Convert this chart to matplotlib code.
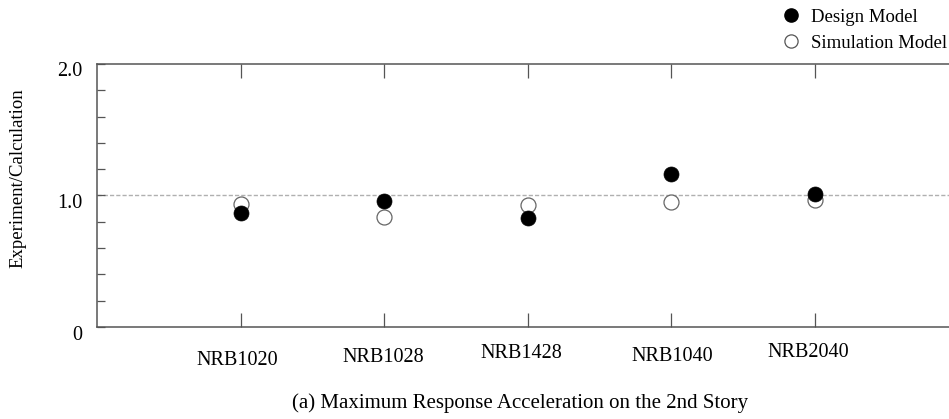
import matplotlib
matplotlib.use("Agg")
import matplotlib.pyplot as plt
import matplotlib.transforms as mtransforms
from matplotlib.lines import Line2D

categories = ["NRB1020", "NRB1028", "NRB1428", "NRB1040", "NRB2040"]
design_model = [0.864, 0.958, 0.831, 1.164, 1.009]
simulation_model = [0.933, 0.836, 0.930, 0.948, 0.966]
ytick_vals = [0, 1.0, 2.0]
ytick_labels = ["0", "1.0", "2.0"]
title = "(a) Maximum Response Acceleration on the 2nd Story"
ylabel = "Experiment/Calculation"

plt.rcParams['font.family'] = ['Liberation Serif', 'DejaVu Serif']

W, H = 949, 419
fig = plt.figure(figsize=(W / 100, H / 100), dpi=100)
ax = fig.add_axes([97 / W, 1 - 327 / H, (958.75 - 97) / W, (327 - 64) / H])

spine_c = '#555555'
x = list(range(len(categories)))

ax.axhline(1.0, color='#b0b0b0', lw=1.0, ls=(0, (3, 1.5)), zorder=1)
ax.plot(x, simulation_model, ls='none', marker='o', ms=10.8, mfc='white',
        mec='#666666', mew=0.9, zorder=3, clip_on=False)
ax.plot(x, design_model, ls='none', marker='o', ms=10.8, mfc='black',
        mec='black', mew=0.5, zorder=4, clip_on=False)

ax.set_xlim(-1, 5)
ax.set_ylim(0, 2.0)

for s in ['left', 'bottom', 'top']:
    ax.spines[s].set_color(spine_c)
    ax.spines[s].set_linewidth(1.1)
ax.spines['right'].set_visible(False)

ax.set_xticks(x)
ax.set_xticklabels(categories, fontsize=14.5)
ax.tick_params(axis='x', direction='in', length=10, width=0.9, color=spine_c,
               top=True, bottom=True, pad=12)

ax.set_yticks([i * 0.2 for i in range(11)])
ax.set_yticklabels([""] * 11)
ax.tick_params(axis='y', direction='in', length=5.5, width=0.9, color=spine_c,
               left=True, right=False)

# y tick labels, set slightly below their ticks as in the reference
ylab_tr = ax.get_yaxis_transform() + mtransforms.ScaledTranslation(-15 / 100, -8 / 100, fig.dpi_scale_trans)
for v, lab in zip(ytick_vals, ytick_labels):
    ax.text(0, v, lab, transform=ylab_tr, ha='right', va='center', fontsize=14.5)

offs = [(-3, -7), (-1, -4), (-7, 0), (1, -3), (-7, 1)]
for lbl, (dx, dy) in zip(ax.get_xticklabels(), offs):
    lbl.set_transform(lbl.get_transform() + mtransforms.Affine2D().translate(dx, dy))

fig.text(18 / W, 1 - 178 / H, ylabel, rotation=90, ha='center', va='center', fontsize=13.5)
fig.text(520 / W, 1 - 403 / H, title, ha='center', va='center', fontsize=15)

handles = [
    Line2D([], [], ls='none', marker='o', ms=9.5, mfc='black', mec='black'),
    Line2D([], [], ls='none', marker='o', ms=9.5, mfc='white', mec='#555555', mew=0.9),
]
fig.legend(handles, ["Design Model", "Simulation Model"], loc='upper left',
           bbox_to_anchor=(772 / W, 1 + 1 / H), frameon=False, fontsize=13.5,
           handlelength=1.0, handletextpad=0.6, labelspacing=0.5, borderpad=0)

fig.savefig("out.png", dpi=100)
